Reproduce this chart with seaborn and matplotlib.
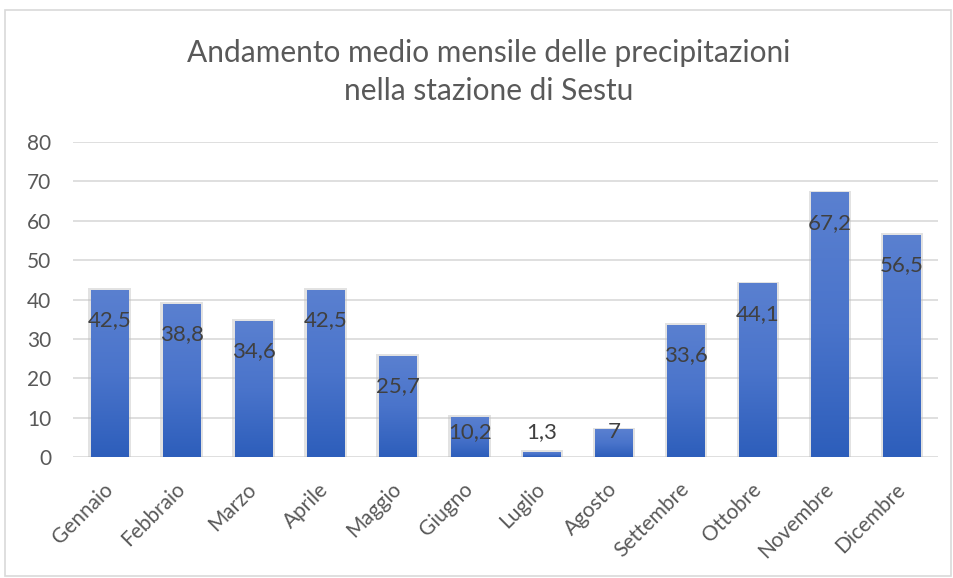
import numpy as np
import pandas as pd
import matplotlib
matplotlib.use("Agg")
import matplotlib.pyplot as plt
import seaborn as sns
from matplotlib.patches import Rectangle

months = ["Gennaio", "Febbraio", "Marzo", "Aprile", "Maggio", "Giugno",
          "Luglio", "Agosto", "Settembre", "Ottobre", "Novembre", "Dicembre"]
values = [42.5, 38.8, 34.6, 42.5, 25.7, 10.2, 1.3, 7, 33.6, 44.1, 67.2, 56.5]
labels = ["42,5", "38,8", "34,6", "42,5", "25,7", "10,2", "1,3", "7",
          "33,6", "44,1", "67,2", "56,5"]
yticks = [0, 10, 20, 30, 40, 50, 60, 70, 80]
title = "Andamento medio mensile delle precipitazioni\nnella stazione di Sestu"

sns.set_style("white")
plt.rcParams['font.family'] = ['Lato', 'DejaVu Sans']

df = pd.DataFrame({"mese": months, "mm": values})

fig = plt.figure(figsize=(9.54, 5.78), dpi=100)
ax = fig.add_axes([73.5/954, 1-457/578, (938-73.5)/954, (457-142)/578])

sns.barplot(data=df, x="mese", y="mm", ax=ax, color="#4472C4", width=0.52,
            saturation=1, zorder=3, linewidth=0)

ax.set_ylim(0, 80)
ax.set_xlim(-0.5, len(months) - 0.5)
ax.set_yticks(yticks)
ax.set_yticklabels([str(t) for t in yticks], fontsize=15, color="#595959")
ax.yaxis.grid(True, color="#D9D9D9", linewidth=1.2, zorder=0)
ax.set_axisbelow(True)
for s in ax.spines.values():
    s.set_visible(False)
ax.tick_params(axis="y", length=0, pad=16)
ax.set_xlabel("")
ax.set_ylabel("")
ax.set_xticks(range(len(months)))
ax.set_xticklabels(months, rotation=45, ha="right", va="center",
                   rotation_mode="anchor", fontsize=15, color="#595959")
ax.tick_params(axis="x", length=0, pad=21)

# gradient fill + soft shadow
grad = np.linspace(0, 1, 256).reshape(-1, 1)
cmap = matplotlib.colors.LinearSegmentedColormap.from_list(
    "g", ["#2D5EBB", "#4A74CB", "#5A80D0"])
for p in list(ax.patches):
    x0, y0 = p.get_x(), p.get_y()
    w, h = p.get_width(), p.get_height()
    sh = Rectangle((x0 - 0.035, y0), w + 0.07, h + 0.45, facecolor="#BFBFBF",
                   alpha=0.45, edgecolor="none", zorder=2)
    ax.add_patch(sh)
    im = ax.imshow(grad, extent=[x0, x0 + w, y0, y0 + h], origin="lower",
                   cmap=cmap, aspect="auto", zorder=4)
    im.set_clip_path(p)

for i, (v, lab) in enumerate(zip(values, labels)):
    yc = max(v - 7.7, 6.3)
    ax.text(i, yc, lab, ha="center", va="center", fontsize=16,
            color="#404040", zorder=6)

fig.text(489/954, 1 - 72/578, title, ha="center", va="center",
         fontsize=21.5, color="#595959", linespacing=1.45)

border = Rectangle((5/954, 2/578), 946/954, 566/578, transform=fig.transFigure,
                   fill=False, edgecolor="#D9D9D9", linewidth=1.2)
fig.patches.append(border)

fig.savefig("out.png", dpi=100)
